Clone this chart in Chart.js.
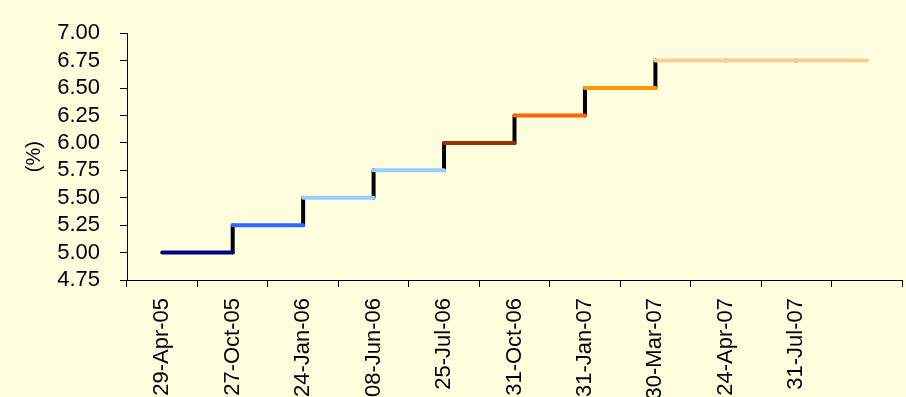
<!DOCTYPE html>
<html>
<head>
<meta charset="utf-8">
<script src="https://cdn.jsdelivr.net/npm/chart.js@4/dist/chart.umd.min.js"></script>
<style>
  html, body { margin: 0; padding: 0; background: #FFFFE0; overflow: hidden; }
  #c { display: block; background: #FFFFE0; }
</style>
</head>
<body>
<canvas id="c" width="906" height="397"></canvas>
<script>
// Policy rate change dates (last slot is the open end of the final level)
const dates = ['29-Apr-05', '27-Oct-05', '24-Jan-06', '08-Jun-06', '25-Jul-06',
               '31-Oct-06', '31-Jan-07', '30-Mar-07', '24-Apr-07', '31-Jul-07', ''];
// Rate (%) in force from each date
const rates = [5.00, 5.25, 5.50, 5.75, 6.00, 6.25, 6.50, 6.75, 6.75, 6.75, 6.75];
// Colour of each level between one date and the next
const levelColors = ['#000080', '#3366FF', '#99CCFF', '#99CCFF', '#993300',
                     '#FF6600', '#FF9900', '#FFCC99', '#FFCC99', '#FFCC99'];
// Value axis range
const yMin = 4.75, yMax = 7.00, yStep = 0.25;

const FONT = "'Liberation Sans', Arial, sans-serif";
Chart.defaults.color = '#000';
Chart.defaults.font.family = FONT;

// Horizontal level segments, one per interval
const levelSets = levelColors.map((col, k) => ({
  data: [{ x: dates[k], y: rates[k] }, { x: dates[k + 1], y: rates[k] }],
  borderColor: col,
  backgroundColor: col,
  borderWidth: 4,
  borderCapStyle: 'round',
  pointRadius: 0,
  order: 0
}));

// Vertical black risers at each change date
const riseData = [];
for (let i = 1; i < rates.length - 1; i++) {
  riseData.push({ x: dates[i], y: rates[i - 1] }, { x: dates[i], y: rates[i] }, { x: dates[i], y: null });
}
const riseSet = {
  data: riseData,
  borderColor: '#000',
  backgroundColor: '#000',
  borderWidth: 4,
  borderCapStyle: 'round',
  pointRadius: 0,
  spanGaps: false,
  order: 1
};

new Chart(document.getElementById('c'), {
  type: 'line',
  data: { labels: dates, datasets: [...levelSets, riseSet] },
  options: {
    responsive: false,
    animation: false,
    layout: { padding: { left: 0, top: 7, right: 4, bottom: 0 } },
    plugins: { legend: { display: false }, tooltip: { enabled: false } },
    scales: {
      x: {
        type: 'category',
        offset: true,
        grid: { offset: true, drawOnChartArea: false, drawTicks: true, tickLength: 7, color: '#000' },
        border: { display: true, color: '#000', width: 1 },
        ticks: {
          autoSkip: false, maxRotation: 90, minRotation: 90, padding: 11,
          font: { family: FONT, size: 22 }, color: '#000'
        },
        afterFit(scale) { scale.height = 117; }
      },
      y: {
        type: 'linear',
        min: yMin, max: yMax,
        grid: { drawOnChartArea: false, drawTicks: true, tickLength: 7, color: '#000' },
        border: { display: true, color: '#000', width: 1 },
        ticks: {
          stepSize: yStep, padding: 20, autoSkip: false,
          font: { family: FONT, size: 22 }, color: '#000',
          callback: v => Number(v).toFixed(2)
        },
        title: {
          display: true, text: '(%)',
          font: { family: FONT, size: 20 }, color: '#000',
          padding: { top: 22, bottom: 0 }
        },
        afterFit(scale) { scale.width = 127; }
      }
    }
  }
});
</script>
</body>
</html>
